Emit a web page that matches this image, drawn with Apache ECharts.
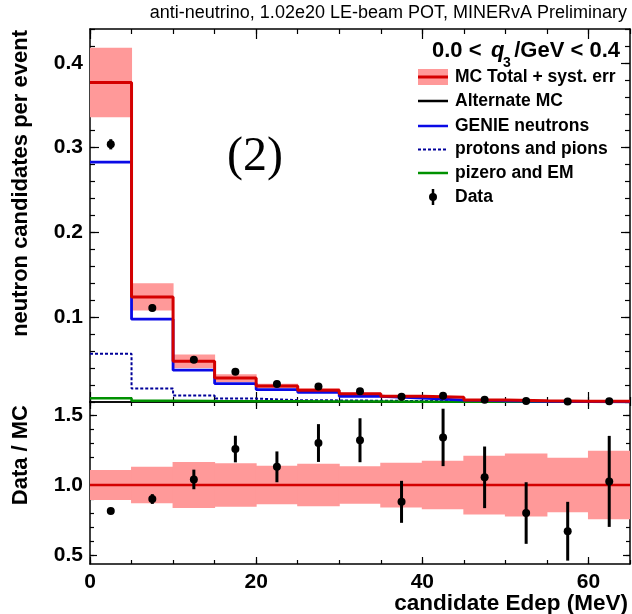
<!DOCTYPE html>
<html><head><meta charset="utf-8">
<script src="https://cdn.jsdelivr.net/npm/echarts@6/dist/echarts.min.js"></script>
<style>html,body{margin:0;padding:0;background:#fff}#c{width:632px;height:614px}</style>
</head><body><div id="c"></div><script>
// ---- data ----
const binEdges = [0,5,10,15,20,25,30,35,40,45,50,55,60,65];
const mcTotal  = [0.377,0.124,0.048,0.0282,0.0188,0.0140,0.0096,0.0068,0.0056,0.0025,0.0015,0.0010,0.0008];
const mcSyst   = [0.041,0.016,0.008,0.0045,0.0027,0.0021,0.0013,0.0011,0.0009,0.0005,0.0003,0.0002,0.0002];
const genieNeutrons = [0.283,0.0977,0.0375,0.0217,0.0147,0.0115,0.0068,0.0045,0.0022,0.0014,0.0008,0.0005,0.0003];
const protonsPions  = [0.057,0.016,0.0077,0.0040,0.0022,0.0019,0.0015,0.0012,0.0010,0.0008,0.0005,0.0004,0.0003];
const pizeroEM      = [0.0045,0.0015,0.0012,0.0010,0.0008,0.0006,0.0005,0.0004,0.0003,0.0003,0.0002,0.0002,0.0001];
const dataVals = [0.304,0.111,0.0498,0.0357,0.0212,0.0184,0.0127,0.0061,0.0075,0.0026,0.0012,0.0007,0.0008];
const dataErr  = [0.006,0.004,0.003,0.0026,0.002,0.0018,0.0015,0.001,0.0011,0.0005,0.0003,0.0002,0.0002];
const ratioVals = [0.814,0.90,1.04,1.257,1.13,1.30,1.32,0.88,1.34,1.055,0.80,0.67,1.026];
const ratioErr  = [0.012,0.035,0.07,0.095,0.11,0.135,0.157,0.15,0.205,0.22,0.22,0.21,0.325];
const ratioSyst = [0.107,0.13,0.164,0.156,0.137,0.152,0.134,0.16,0.173,0.21,0.225,0.195,0.244];
const xTickLabels = [0,20,40,60];
const xMinorTicks = [0,5,10,15,20,25,30,35,40,45,50,55,60,65];
const yTopTickLabels = [0.1,0.2,0.3,0.4];
const yTopMinorTicks = [0,0.02,0.04,0.06,0.08,0.1,0.12,0.14,0.16,0.18,0.2,0.22,0.24,0.26,0.28,0.3,0.32,0.34,0.36,0.38,0.4,0.42,0.44];
const yRatioTickLabels = [0.5,1.0,1.5];
const yRatioMinorTicks = [0.5,0.6,0.7,0.8,0.9,1.0,1.1,1.2,1.3,1.4,1.5];
// ---------------------------------------

const FONT = '"Liberation Sans", Arial, Helvetica, sans-serif';
const chart = echarts.init(document.getElementById('c'), null, {renderer:'canvas'});

const xMin = 0, xMax = 65;
const yTop = [0, 0.44];
const yRat = [0.436, 1.593];

function xAxisDef(grid, pos, major, len, labels){
  return {
    type:'value', gridIndex:grid, position:pos, min:xMin, max:xMax,
    axisLine:{show:major, onZero:false, lineStyle:{color:'#000', width:1.5}},
    axisTick:{show:true, inside:true, length:len, customValues: major ? xTickLabels : xMinorTicks,
      lineStyle:{color:'#000', width:1.2}},
    axisLabel:{show:!!labels, customValues:xTickLabels, margin:8,
      fontFamily:FONT, fontWeight:'bold', fontSize:21, color:'#000'},
    splitLine:{show:false}
  };
}
function yAxisDef(grid, pos, major, len, range, lab, minor, labels){
  return {
    type:'value', gridIndex:grid, position:pos, min:range[0], max:range[1],
    axisLine:{show:major, onZero:false, lineStyle:{color:'#000', width:1.5}},
    axisTick:{show:true, inside:true, length:len, customValues: major ? lab : minor,
      lineStyle:{color:'#000', width:1.2}},
    axisLabel:{show:!!labels, customValues:lab, margin:7,
      formatter:(v)=>Number(v).toFixed(1),
      fontFamily:FONT, fontWeight:'bold', fontSize:21, color:'#000'},
    splitLine:{show:false}
  };
}

const xAxes = [
  xAxisDef(0,'bottom',true,10,false),   // 0
  xAxisDef(0,'bottom',false,5,false),   // 1
  xAxisDef(0,'top',true,10,false),      // 2
  xAxisDef(0,'top',false,5,false),      // 3
  xAxisDef(1,'bottom',true,7,true),     // 4
  xAxisDef(1,'bottom',false,4,false),   // 5
  xAxisDef(1,'top',true,7,false),       // 6
  xAxisDef(1,'top',false,4,false)       // 7
];
const yAxes = [
  yAxisDef(0,'left',true,9,yTop,yTopTickLabels,yTopMinorTicks,true),   // 0
  yAxisDef(0,'left',false,5,yTop,yTopTickLabels,yTopMinorTicks,false), // 1
  yAxisDef(0,'right',true,9,yTop,yTopTickLabels,yTopMinorTicks,false), // 2
  yAxisDef(0,'right',false,5,yTop,yTopTickLabels,yTopMinorTicks,false),// 3
  yAxisDef(1,'left',true,7,yRat,yRatioTickLabels,yRatioMinorTicks,true),   // 4
  yAxisDef(1,'left',false,4,yRat,yRatioTickLabels,yRatioMinorTicks,false), // 5
  yAxisDef(1,'right',true,7,yRat,yRatioTickLabels,yRatioMinorTicks,false), // 6
  yAxisDef(1,'right',false,4,yRat,yRatioTickLabels,yRatioMinorTicks,false) // 7
];

function stepData(vals){
  const d = vals.map((v,i)=>[binEdges[i], v]);
  d.push([binEdges[binEdges.length-1], vals[vals.length-1]]);
  return d;
}
const centers = binEdges.slice(0,-1).map((e,i)=>(e+binEdges[i+1])/2);

function bandSeries(xi, yi, rows){
  return {
    type:'custom', xAxisIndex:xi, yAxisIndex:yi, clip:true, z:1,
    encode:{x:[0,1], y:[2,3]},
    data: rows,
    renderItem:(params, api)=>{
      const p0 = api.coord([api.value(0), api.value(3)]);
      const p1 = api.coord([api.value(1), api.value(2)]);
      return {type:'rect', shape:{x:p0[0]-0.5, y:p0[1], width:p1[0]-p0[0]+1, height:p1[1]-p0[1]},
        style:{fill:'#ff9999'}};
    }
  };
}
function stepSeries(name, vals, color, width, type, z){
  return {
    name, type:'line', xAxisIndex:0, yAxisIndex:0, step:'end', showSymbol:false, symbol:'none',
    data: stepData(vals), z,
    lineStyle:{color, width, type}, clip:true
  };
}
function pointSeries(xi, yi, vals, errs){
  return {
    type:'custom', xAxisIndex:xi, yAxisIndex:yi, z:10, clip:false,
    encode:{x:0, y:1},
    data: vals.map((v,i)=>[centers[i], v, errs[i]]),
    renderItem:(params, api)=>{
      const x = api.value(0), y = api.value(1), e = api.value(2);
      const c = api.coord([x,y]), a = api.coord([x,y+e]), b = api.coord([x,y-e]);
      return {type:'group', children:[
        {type:'line', shape:{x1:a[0], y1:a[1], x2:b[0], y2:b[1]}, style:{stroke:'#000', lineWidth:3}},
        {type:'circle', shape:{cx:c[0], cy:c[1], r:4}, style:{fill:'#000'}}
      ]};
    }
  };
}

const series = [
  bandSeries(0,0, mcTotal.map((v,i)=>[binEdges[i], binEdges[i+1], v-mcSyst[i], v+mcSyst[i]])),
  stepSeries('protons and pions', protonsPions, '#000099', 2, [3,2], 3),
  stepSeries('pizero and EM', pizeroEM, '#009100', 2.5, 'solid', 4),
  stepSeries('GENIE neutrons', genieNeutrons, '#0a0ae6', 2.8, 'solid', 5),
  stepSeries('MC Total + syst. err', mcTotal, '#d40000', 3, 'solid', 6),
  pointSeries(0,0, dataVals, dataErr),
  bandSeries(4,4, ratioSyst.map((s,i)=>[binEdges[i], binEdges[i+1], 1-s, 1+s])),
  {type:'line', xAxisIndex:4, yAxisIndex:4, showSymbol:false, symbol:'none', z:6,
   data:[[xMin,1],[xMax,1]], lineStyle:{color:'#d40000', width:2.5}},
  pointSeries(4,4, ratioVals, ratioErr)
];

// legend (drawn as graphics)
const legendRows = [
  {label:'MC Total + syst. err', y:77},
  {label:'Alternate MC', y:101},
  {label:'GENIE neutrons', y:126},
  {label:'protons and pions', y:149.5},
  {label:'pizero and EM', y:173},
  {label:'Data', y:197}
];
const lx0 = 418, lx1 = 448, ltx = 455;
const g = [];
g.push({type:'rect', shape:{x:lx0, y:69, width:lx1-lx0, height:16}, style:{fill:'#ff9999'}});
g.push({type:'line', shape:{x1:lx0,y1:77,x2:lx1,y2:77}, style:{stroke:'#d40000', lineWidth:3}});
g.push({type:'line', shape:{x1:lx0,y1:101,x2:lx1,y2:101}, style:{stroke:'#000', lineWidth:2.5}});
g.push({type:'line', shape:{x1:lx0,y1:126,x2:lx1,y2:126}, style:{stroke:'#0a0ae6', lineWidth:2.5}});
g.push({type:'line', shape:{x1:lx0,y1:149.5,x2:lx1,y2:149.5}, style:{stroke:'#000099', lineWidth:2, lineDash:[3,2]}});
g.push({type:'line', shape:{x1:lx0,y1:173,x2:lx1,y2:173}, style:{stroke:'#009100', lineWidth:2.5}});
g.push({type:'line', shape:{x1:433,y1:189,x2:433,y2:205}, style:{stroke:'#000', lineWidth:2.5}});
g.push({type:'circle', shape:{cx:433, cy:197, r:4}, style:{fill:'#000'}});
legendRows.forEach(r=>g.push({type:'text', x:ltx, y:r.y, style:{text:r.label, font:'bold 17.5px '+FONT, fill:'#000', verticalAlign:'middle', align:'left'}}));
// q3 header
g.push({type:'text', x:432, y:51, style:{text:'0.0 <', font:'bold 22px '+FONT, fill:'#000', verticalAlign:'middle'}});
g.push({type:'text', x:491, y:51, style:{text:'q', font:'italic bold 22px '+FONT, fill:'#000', verticalAlign:'middle'}});
g.push({type:'text', x:503, y:63, style:{text:'3', font:'bold 14px '+FONT, fill:'#000', verticalAlign:'middle'}});
g.push({type:'text', x:620, y:51, style:{text:'/GeV < 0.4', font:'bold 22px '+FONT, fill:'#000', verticalAlign:'middle', align:'right'}});
// top caption
g.push({type:'text', x:627, y:13, style:{text:'anti-neutrino, 1.02e20 LE-beam POT, MINERvA Preliminary', font:'18px '+FONT, fill:'#000', verticalAlign:'middle', align:'right'}});
// panel label
g.push({type:'text', x:255, y:157, style:{text:'(2)', font:'48px "Liberation Serif", "Times New Roman", serif', fill:'#000', verticalAlign:'middle', align:'center'}});
// axis titles
g.push({type:'text', x:628, y:604, style:{text:'candidate Edep (MeV)', font:'bold 22.5px '+FONT, fill:'#000', verticalAlign:'middle', align:'right'}});
g.push({type:'text', x:21, y:30, rotation:Math.PI/2, style:{text:'neutron candidates per event', font:'bold 22px '+FONT, fill:'#000', verticalAlign:'middle', align:'right'}});
g.push({type:'text', x:21, y:405, rotation:Math.PI/2, style:{text:'Data / MC', font:'bold 22px '+FONT, fill:'#000', verticalAlign:'middle', align:'right'}});

chart.setOption({
  animation:false,
  backgroundColor:'#fff',
  grid:[{left:90, top:29, width:540, height:373}, {left:90, top:402, width:540, height:162}],
  xAxis:xAxes, yAxis:yAxes, series, graphic:g
});
</script></body></html>
